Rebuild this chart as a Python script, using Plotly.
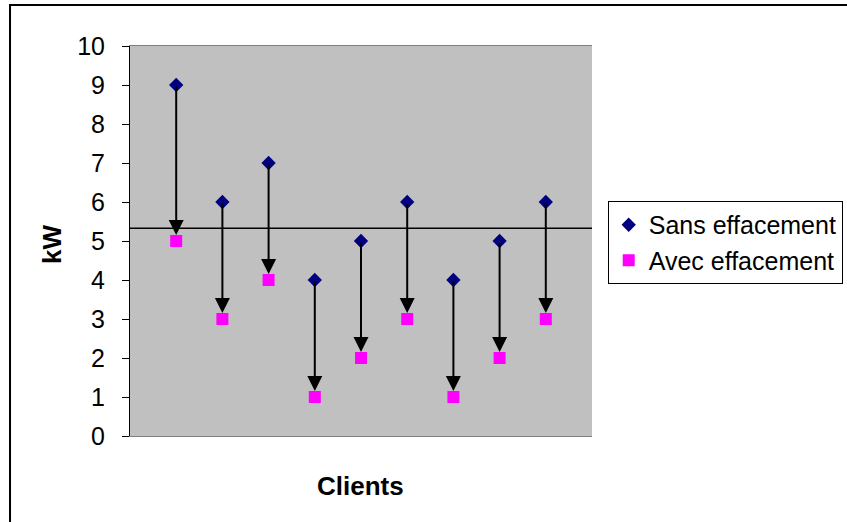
import plotly.graph_objects as go

# Power demand per client, before and after load shedding
clients = [1, 2, 3, 4, 5, 6, 7, 8, 9]
sans_effacement = [9, 6, 7, 4, 5, 6, 4, 5, 6]
avec_effacement = [5, 3, 4, 1, 2, 3, 1, 2, 3]
seuil = 5.33
y_ticks = [0, 1, 2, 3, 4, 5, 6, 7, 8, 9, 10]

FONT = "Liberation Sans, Arial, sans-serif"

fig = go.Figure()

fig.add_trace(go.Scatter(
    x=clients, y=sans_effacement, mode="markers", name="Sans effacement",
    legendgroup="a",
    marker=dict(symbol="diamond", size=11, color="#000080"),
    hoverinfo="skip",
))
fig.add_trace(go.Scatter(
    x=clients, y=avec_effacement, mode="markers", name="Avec effacement",
    legendgroup="b",
    marker=dict(symbol="square", size=12, color="#FF00FF"),
    hoverinfo="skip",
))

# Arrows from the demand without shedding down to the demand with shedding
for c, s, a in zip(clients, sans_effacement, avec_effacement):
    fig.add_annotation(
        x=c, y=a, ax=c, ay=s, xref="x", yref="y", axref="x", ayref="y",
        text="", showarrow=True, arrowhead=2, arrowsize=1.5, arrowwidth=2,
        arrowcolor="black", standoff=6,
    )

# Threshold line across the plot area
fig.add_shape(type="line", xref="paper", yref="y", x0=0, x1=1, y0=seuil, y1=seuil,
              line=dict(color="black", width=1.5))

# Outer chart frame
fig.add_shape(type="rect", xref="paper", yref="paper",
              x0=-0.2597, x1=1.6, y0=-0.25, y1=1.105,
              line=dict(color="black", width=2), layer="below")

fig.add_annotation(text="<b>kW</b>", xref="paper", yref="paper", x=-0.1688, y=0.49,
                   xanchor="center", yanchor="middle",
                   textangle=-90, showarrow=False, font=dict(family=FONT, size=26, color="black"))
fig.add_annotation(text="<b>Clients</b>", xref="paper", yref="paper", x=0.498, y=-0.128,
                   xanchor="center", yanchor="middle",
                   showarrow=False, font=dict(family=FONT, size=26, color="black"))

fig.update_layout(
    width=847, height=522,
    margin=dict(l=130, r=255, t=46, b=86, autoexpand=False),
    paper_bgcolor="white",
    plot_bgcolor="#C0C0C0",
    font=dict(family=FONT, size=25, color="black"),
    showlegend=True,
    legend=dict(
        x=1.034, y=0.6026, xanchor="left", yanchor="top",
        bordercolor="black", borderwidth=1, bgcolor="white",
        font=dict(family=FONT, size=25, color="black"),
        tracegroupgap=0,
    ),
    xaxis=dict(range=[0, 10], showticklabels=False, ticks="", showgrid=False,
               zeroline=False, showline=True, linecolor="#808080", linewidth=1,
               mirror=True, fixedrange=True),
    yaxis=dict(range=[0, 10], tickvals=y_ticks, ticks="outside", ticklen=7,
               tickcolor="black", showgrid=False, zeroline=False,
               showline=True, linecolor="black", linewidth=1,
               ticklabelstandoff=12, fixedrange=True),
)

fig.write_html("out.html", config={"displayModeBar": False})
